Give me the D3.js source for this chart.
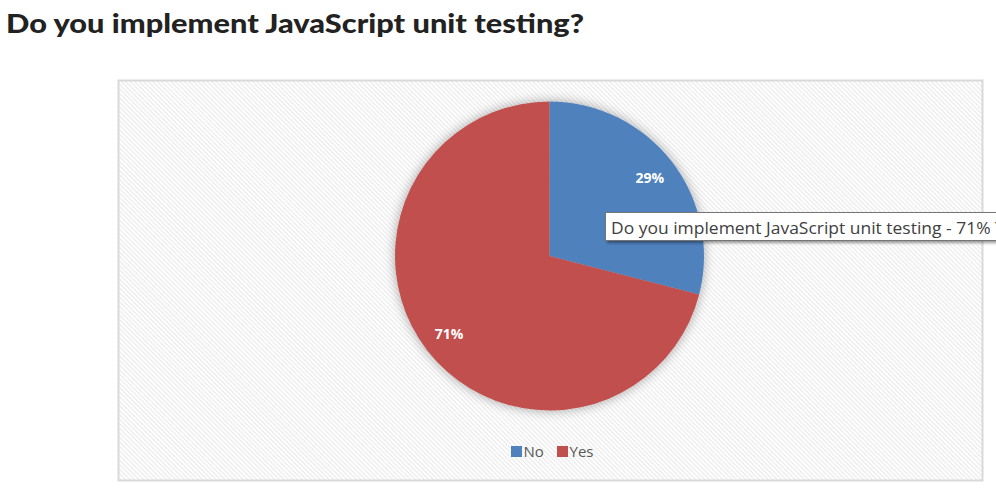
<!DOCTYPE html>
<html><head><meta charset="utf-8">
<script src="https://cdn.jsdelivr.net/npm/d3@7"></script>
<style>html,body{margin:0;padding:0;background:#fff;overflow:hidden}</style>
</head><body>
<script>
const title = "Do you implement JavaScript unit testing?";
const categories = ["No", "Yes"];
const values = [29, 71];
const colors = ["#4f81bd", "#c0504d"];
const tooltipText = "Do you implement JavaScript unit testing - 71% Yes";

const W = 996, H = 495;
const svg = d3.select("body").append("svg").attr("width", W).attr("height", H);
const defs = svg.append("defs");

const pat = defs.append("pattern").attr("id", "hatch").attr("patternUnits", "userSpaceOnUse")
  .attr("width", 8).attr("height", 3.2).attr("patternTransform", "rotate(45)");
pat.append("rect").attr("width", 8).attr("height", 3.2).attr("fill", "#ffffff");
pat.append("rect").attr("width", 8).attr("height", 1.5).attr("fill", "#eeeeee");

const sh = defs.append("filter").attr("id", "pieShadow").attr("x", "-20%").attr("y", "-20%").attr("width", "140%").attr("height", "140%");
sh.append("feGaussianBlur").attr("in", "SourceAlpha").attr("stdDeviation", 6).attr("result", "b");
sh.append("feComponentTransfer").attr("in", "b").attr("result", "b2")
  .append("feFuncA").attr("type", "linear").attr("slope", 0.35);
const m = sh.append("feMerge");
m.append("feMergeNode").attr("in", "b2");
m.append("feMergeNode").attr("in", "SourceGraphic");

const tsh = defs.append("filter").attr("id", "tipShadow").attr("x", "-10%").attr("y", "-30%").attr("width", "120%").attr("height", "180%");
tsh.append("feGaussianBlur").attr("in", "SourceAlpha").attr("stdDeviation", 1.5).attr("result", "b");
tsh.append("feOffset").attr("in", "b").attr("dx", 2).attr("dy", 2).attr("result", "o");
tsh.append("feComponentTransfer").attr("in", "o").attr("result", "o2")
  .append("feFuncA").attr("type", "linear").attr("slope", 0.4);
const tm = tsh.append("feMerge");
tm.append("feMergeNode").attr("in", "o2");
tm.append("feMergeNode").attr("in", "SourceGraphic");

// Title
svg.append("text").attr("x", 6).attr("y", 33).text(title)
  .attr("font-family", "Lato, 'Open Sans', sans-serif").attr("font-weight", 900)
  .attr("font-size", 27).attr("fill", "#222222")
  .attr("textLength", 578).attr("lengthAdjust", "spacingAndGlyphs");

// Chart area
svg.append("rect").attr("x", 118.5).attr("y", 80.5).attr("width", 864).attr("height", 400)
  .attr("fill", "url(#hatch)").attr("stroke", "#d9d9d9").attr("stroke-width", 2);

const cx = 549.5, cy = 256, R = 154.5;
const pie = d3.pie().sort(null).value(d => d)(values);
const arc = d3.arc().innerRadius(0).outerRadius(R);
const labelArc = d3.arc().innerRadius(127).outerRadius(127);
const g = svg.append("g").attr("transform", `translate(${cx},${cy})`);
g.append("g").attr("filter", "url(#pieShadow)").selectAll("path").data(pie).join("path")
  .attr("d", arc).attr("fill", (d, i) => colors[i]);
g.selectAll("text").data(pie).join("text")
  .attr("transform", d => `translate(${labelArc.centroid(d)})`)
  .attr("text-anchor", "middle").attr("dy", "0.35em")
  .attr("font-family", "'Open Sans', sans-serif").attr("font-weight", 700).attr("font-size", 14)
  .attr("fill", "#ffffff").text(d => d.data + "%");

// Legend
const legend = svg.append("g");
const lx = [511, 557];
categories.forEach((c, i) => {
  legend.append("rect").attr("x", lx[i]).attr("y", 446).attr("width", 11).attr("height", 11).attr("fill", colors[i]);
  legend.append("text").attr("x", lx[i] + 12.5).attr("y", 456.5).text(c)
    .attr("font-family", "'Open Sans', sans-serif").attr("font-size", 15).attr("fill", "#595959");
});

// Tooltip
const tip = svg.append("g");
tip.append("rect").attr("x", 605.5).attr("y", 212.5).attr("width", 440).attr("height", 28)
  .attr("fill", "#ffffff").attr("stroke", "#767676").attr("stroke-width", 1).attr("filter", "url(#tipShadow)");
tip.append("text").attr("x", 611).attr("y", 234).text(tooltipText)
  .attr("font-family", "'Open Sans', sans-serif").attr("font-size", 17).attr("fill", "#404040")
  .attr("textLength", 412).attr("lengthAdjust", "spacingAndGlyphs");
</script>
</body></html>
